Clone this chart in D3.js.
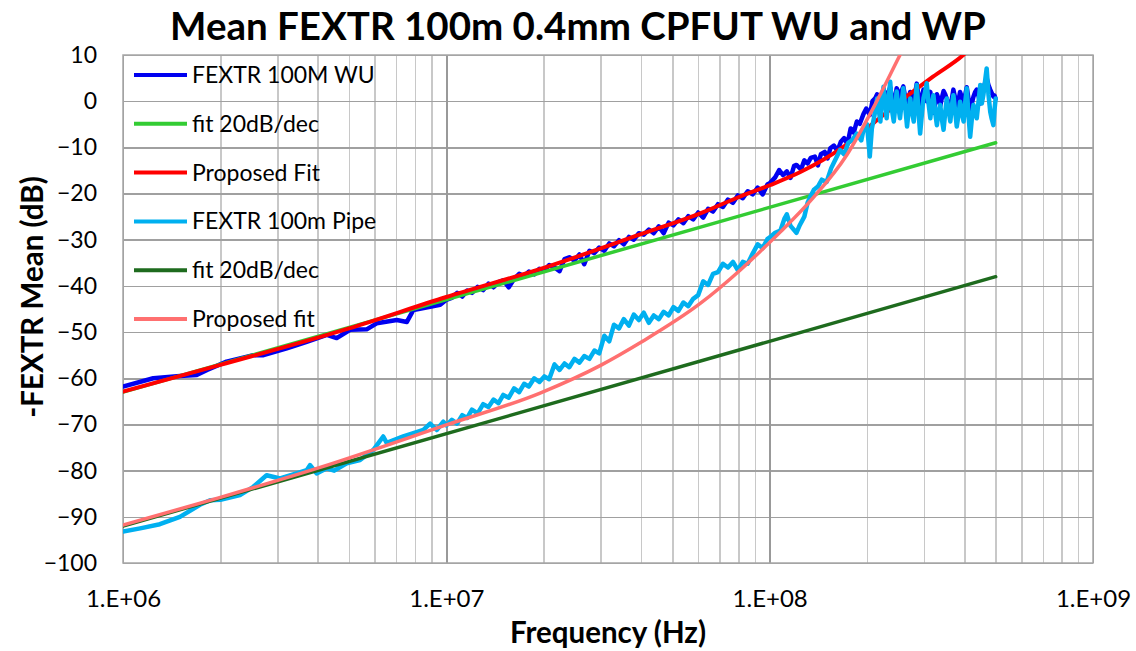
<!DOCTYPE html>
<html>
<head>
<meta charset="utf-8"/>
<script src="https://d3js.org/d3.v7.min.js"></script>
<style>
  body { margin: 0; background: #fff; }
  svg text { font-family: Lato, "Open Sans", sans-serif; fill: #000; }
  .grid line { shape-rendering: crispEdges; }
  .grid path { display: none; }
  .series { fill: none; stroke-linejoin: round; stroke-linecap: round; }
</style>
</head>
<body>
<svg id="chart" width="1136" height="651"></svg>
<script>
// ---- data (frequency in MHz, level in dB) ----
var wuMHz = [1.0,1.24,1.5,1.69,1.82,2.09,2.53,2.72,3.21,3.7,4.27,4.58,5.04,5.67,6.09,7.03,7.55,7.91,8.91,9.57,
  10.0,10.4,10.8,11.2,11.6,12.0,12.5,13.0,13.5,14.0,14.5,15.0,15.6,16.2,16.8,17.4,18.0,18.7,19.4,20.1,20.8,21.6,22.4,23.2,24.0,24.9,25.8,26.7,27.7,28.7,29.7,30.8,31.9,33.0,34.2,35.4,36.7,38.0,39.4,
  40.8,42.3,43.8,45.4,47.0,48.7,50.4,52.2,54.1,56.0,58.0,60.1,62.3,64.5,66.8,69.2,71.7,74.3,77.0,79.7,82.6,85.5,88.6,91.8,95.1,98.5,
  100,104,107,110,113,116,119,121,125,128,131,134,138,141,144,148,151,154,158,162,166,170,174,178,182,186,190,195,199,204,208,212,
  215,217,220,222,225,228,230,233,236,239,242,245,247,250,253,256,259,263,266,269,272,276,279,282,285,289,292,296,299,303,306,310,314,317,321,325,329,333,337,341,345,349,353,358,362,366,370,375,379,384,388,393,398,402,407,412,417,422,427,432,437,443,448,453,458,464,469,475,481,486,492,496,500];
var wuDb = [-61.8,-60.0,-59.5,-59.3,-58.2,-56.4,-55.0,-55.0,-53.5,-52.1,-50.6,-51.3,-49.5,-49.4,-48.1,-47.4,-47.8,-45.2,-44.5,-44.1,
  -43.0,-42.6,-41.5,-42.3,-41.0,-41.5,-40.2,-40.9,-39.5,-40.3,-39.2,-38.8,-40.3,-38.5,-37.4,-37.9,-36.9,-37.5,-36.3,-36.6,-35.5,-36.0,-36.8,-34.2,-33.8,-34.5,-33.2,-35.3,-32.4,-32.9,-31.7,-32.4,-30.8,-31.4,-30.1,-31.0,-29.4,-30.0,-28.6,
  -28.9,-27.8,-28.6,-27.1,-28.6,-26.3,-26.9,-25.6,-26.4,-24.9,-25.6,-24.1,-25.2,-23.3,-23.9,-22.3,-22.9,-21.3,-22.0,-20.4,-21.0,-19.5,-20.2,-18.7,-20.2,-18.0,
  -17.8,-16.5,-14.9,-16.0,-15.2,-16.6,-14.0,-13.8,-14.8,-12.8,-13.5,-12.3,-12.0,-13.9,-11.5,-11.0,-12.4,-10.2,-9.6,-10.8,-8.8,-8.0,-9.3,-5.9,-6.8,-4.4,-4.9,-2.8,-1.6,-3.0,0.0,0.6,
  1.5,0.2,-1.0,1.0,2.5,1.5,0.5,2.0,3.0,0.8,-1.5,1.0,2.8,2.0,1.0,2.2,3.2,0.5,-2.0,0.3,2.0,0.8,-0.5,1.8,3.8,1.0,-1.0,1.0,2.5,1.5,0.0,1.2,2.0,-0.5,-2.5,-0.3,1.5,0.5,-1.0,0.8,2.2,1.5,0.5,-1.0,-2.0,0.5,2.5,0.6,-1.5,0.3,2.0,0.8,-0.5,1.2,3.0,0.5,-2.0,-0.5,1.0,2.0,2.5,1.0,-0.5,1.5,3.0,4.0,5.0,3.5,2.5,1.8,1.0,1.2,0.5];

var pipeMHz = [1.0,1.13,1.3,1.5,1.73,1.86,2.0,2.3,2.53,2.78,3.06,3.44,3.7,3.79,3.97,4.27,4.5,4.92,5.41,5.95,6.38,6.54,7.36,7.91,8.49,8.91,9.34,9.79,
  10.0,10.4,10.8,11.2,11.6,12.0,12.5,13.0,13.5,14.0,14.5,15.0,15.6,16.2,16.8,17.4,18.0,18.7,19.4,20.1,20.8,21.6,22.4,23.2,24.0,24.9,25.8,26.7,27.7,28.7,29.7,30.8,31.9,33.0,34.2,35.4,36.7,38.0,39.4,
  40.8,42.3,43.8,45.4,47.0,48.7,50.4,52.2,54.1,56.0,58.0,60.1,62.3,64.5,66.8,69.2,71.7,74.3,77.0,79.7,82.6,85.5,88.6,91.8,95.1,98.5,
  100,104,108,111,113,116,121,124,128,131,134,137,141,145,150,155,160,165,170,175,180,186,192,196,200,204,207,211,
  215,217,220,222,225,228,230,233,236,239,242,245,247,250,253,256,259,263,266,269,272,276,279,282,285,289,292,296,299,303,306,310,314,317,321,325,329,333,337,341,345,349,353,358,362,366,370,375,379,384,388,393,398,402,407,412,417,422,427,432,437,443,448,453,458,464,469,475,481,486,492,496,500];
var pipeDb = [-93.2,-92.5,-91.6,-90.0,-87.4,-86.4,-86.3,-85.3,-83.5,-81.0,-81.7,-80.6,-79.9,-78.8,-80.6,-79.5,-80.0,-78.4,-77.7,-75.5,-72.6,-74.0,-72.6,-71.9,-71.2,-69.8,-71.2,-69.4,
  -70.2,-69.0,-69.8,-68.0,-68.6,-66.8,-67.6,-65.6,-66.2,-64.6,-65.4,-63.6,-64.2,-62.2,-63.0,-61.2,-61.8,-60.0,-60.8,-59.6,-60.2,-57.0,-58.2,-56.8,-57.6,-55.8,-56.6,-55.2,-55.8,-54.0,-54.6,-50.8,-52.0,-48.4,-49.2,-47.2,-48.6,-46.2,-47.4,
  -45.8,-48.0,-46.4,-47.2,-45.6,-46.4,-44.6,-45.4,-43.6,-44.4,-42.8,-42.0,-39.0,-39.8,-37.4,-37.0,-35.2,-36.0,-34.8,-36.6,-34.8,-35.2,-33.0,-31.0,-31.8,-29.8,
  -29.5,-28.5,-28.0,-25.5,-24.5,-27.0,-28.5,-26.8,-25.0,-22.0,-20.5,-19.2,-18.5,-17.0,-17.5,-14.5,-12.5,-10.6,-11.5,-9.0,-8.4,-7.0,-8.5,-5.5,-5.0,-12.0,-6.0,-3.0,
  0.6,-1.5,-4.4,-0.5,3.1,-1.0,-3.7,0.5,4.2,-2.0,-4.4,-0.8,2.1,-1.2,-3.7,-0.3,2.8,-1.8,-5.5,-2.2,0.6,-2.6,-4.4,-0.2,3.5,-2.8,-7.0,-2.4,0.6,2.2,3.9,-0.5,-3.7,-0.9,1.3,-2.5,-5.2,-2.0,-0.8,-4.0,-6.2,-2.5,0.6,-2.2,-4.4,-1.0,1.3,-2.4,-5.5,-2.8,-0.1,-2.6,-4.4,-0.6,2.8,-3.0,-7.7,-3.8,-0.8,-2.6,-3.7,0.2,3.5,-0.5,1.3,4.5,7.1,1.5,-2.3,-3.8,-5.2,-1.8,0.6];

var fitWuMHz = [1, 500];
var fitWuDb = [-63, -9];
var propWuMHz = [1, 2, 5, 10, 20, 40, 61, 80, 100, 124, 169, 209, 253, 320, 397, 440];
var propWuDb = [-62.9, -57.1, -49.2, -42.4, -36.1, -28.8, -24.3, -20.8, -18.2, -15.4, -9.9, -4.8, -0.1, 5.3, 10.0, 13.0];
var fitPipeMHz = [1, 500];
var fitPipeDb = [-92, -38];
var propPipeMHz = [1, 2, 4.07, 10, 19.5, 30, 40, 61, 81, 93.3, 108, 136, 173, 209, 253, 275];
var propPipeDb = [-91.8, -85.8, -79.3, -70.1, -63.2, -57.2, -52.2, -43.8, -36.6, -32.6, -28.3, -21.0, -11.7, -1.5, 10.0, 15.0];

var seriesNames = ['FEXTR 100M WU', 'fit 20dB/dec', 'Proposed Fit', 'FEXTR 100m Pipe', 'fit 20dB/dec', 'Proposed fit'];
var seriesColors = ['#0000F0', '#33CC33', '#FF0000', '#00B0F0', '#1E6B1E', '#FF7070'];
var yTicks = [10, 0, -10, -20, -30, -40, -50, -60, -70, -80, -90, -100];
var xTicks = [1e6, 1e7, 1e8, 1e9];
var xTickLabels = ['1.E+06', '1.E+07', '1.E+08', '1.E+09'];

// ---- layout ----
var L = 123, R = 1093, T = 55, B = 563;
var svg = d3.select('#chart');

var x = d3.scaleLog().domain([1e6, 1e9]).range([L, R]);
var y = d3.scaleLinear().domain([-100, 10]).range([B, T]);

// minor vertical grid (2..9 per decade)
svg.append('g').attr('class', 'grid')
  .attr('transform', `translate(0,${B})`)
  .call(d3.axisBottom(x).tickValues(x.ticks().filter(v => xTicks.indexOf(v) < 0)).tickSize(-(B - T)).tickFormat(''))
  .selectAll('line').attr('stroke', '#c8c8c8').attr('stroke-width', 1.5);

// horizontal grid
svg.append('g').attr('class', 'grid')
  .attr('transform', `translate(${L},0)`)
  .call(d3.axisLeft(y).tickValues(yTicks).tickSize(-(R - L)).tickFormat(''))
  .selectAll('line').attr('stroke', '#a0a0a0').attr('stroke-width', 1.5);

// decade vertical grid
svg.append('g').attr('class', 'grid')
  .attr('transform', `translate(0,${B})`)
  .call(d3.axisBottom(x).tickValues(xTicks).tickSize(-(B - T)).tickFormat(''))
  .selectAll('line').attr('stroke', '#999').attr('stroke-width', 1.5);

svg.append('rect')
  .attr('x', L).attr('y', T).attr('width', R - L).attr('height', B - T)
  .attr('fill', 'none').attr('stroke', '#a6a6a6').attr('stroke-width', 1.5);

// tick labels
var yAx = svg.append('g').attr('transform', `translate(${L},0)`)
  .call(d3.axisLeft(y).tickValues(yTicks).tickSize(0).tickPadding(26));
yAx.select('.domain').remove();
yAx.selectAll('text').style('font-size', '23px').attr('fill', '#000');

var xAx = svg.append('g').attr('transform', `translate(0,${B})`)
  .call(d3.axisBottom(x).tickValues(xTicks).tickSize(0).tickPadding(27)
    .tickFormat((d, i) => xTickLabels[i]));
xAx.select('.domain').remove();
xAx.selectAll('text').style('font-size', '24px').attr('fill', '#000');

// series
svg.append('clipPath').attr('id', 'plotclip')
  .append('rect').attr('x', L).attr('y', T).attr('width', R - L).attr('height', B - T);

function pts(fs, vs) { return fs.map((f, i) => [f * 1e6, vs[i]]); }
var lineLin = d3.line().x(d => x(d[0])).y(d => y(d[1]));
var lineSmooth = d3.line().curve(d3.curveMonotoneX).x(d => x(d[0])).y(d => y(d[1]));

var plot = svg.append('g').attr('clip-path', 'url(#plotclip)');
var series = [
  {d: pts(wuMHz, wuDb), gen: lineLin, w: 4.5},
  {d: pts(fitWuMHz, fitWuDb), gen: lineLin, w: 3.5},
  {d: pts(propWuMHz, propWuDb), gen: lineSmooth, w: 4},
  {d: pts(pipeMHz, pipeDb), gen: lineLin, w: 4.5},
  {d: pts(fitPipeMHz, fitPipeDb), gen: lineLin, w: 3.5},
  {d: pts(propPipeMHz, propPipeDb), gen: lineSmooth, w: 3.5}
];
series.forEach(function(s, i) {
  plot.append('path').attr('class', 'series')
    .attr('d', s.gen(s.d))
    .attr('stroke', seriesColors[i])
    .attr('stroke-width', s.w);
});

// legend
var leg = svg.append('g');
seriesNames.forEach(function(name, i) {
  var ly = 75 + i * 48.8;
  leg.append('line').attr('x1', 134).attr('x2', 187).attr('y1', ly).attr('y2', ly)
    .attr('stroke', seriesColors[i]).attr('stroke-width', 4);
  leg.append('text').attr('x', 192).attr('y', ly).attr('dy', '0.35em')
    .style('font-size', '23px').text(name);
});

// titles
svg.append('text').attr('x', 578).attr('y', 40).attr('text-anchor', 'middle')
  .style('font-size', '38.5px').style('font-weight', 'bold')
  .text('Mean FEXTR 100m 0.4mm CPFUT WU and WP');
svg.append('text').attr('x', (L + R) / 2).attr('y', 643).attr('text-anchor', 'middle')
  .style('font-size', '29.5px').style('font-weight', 'bold')
  .text('Frequency (Hz)');
svg.append('text').attr('transform', 'translate(43,297) rotate(-90)')
  .attr('text-anchor', 'middle')
  .style('font-size', '29.5px').style('font-weight', 'bold')
  .text('-FEXTR Mean (dB)');
</script>
</body>
</html>
